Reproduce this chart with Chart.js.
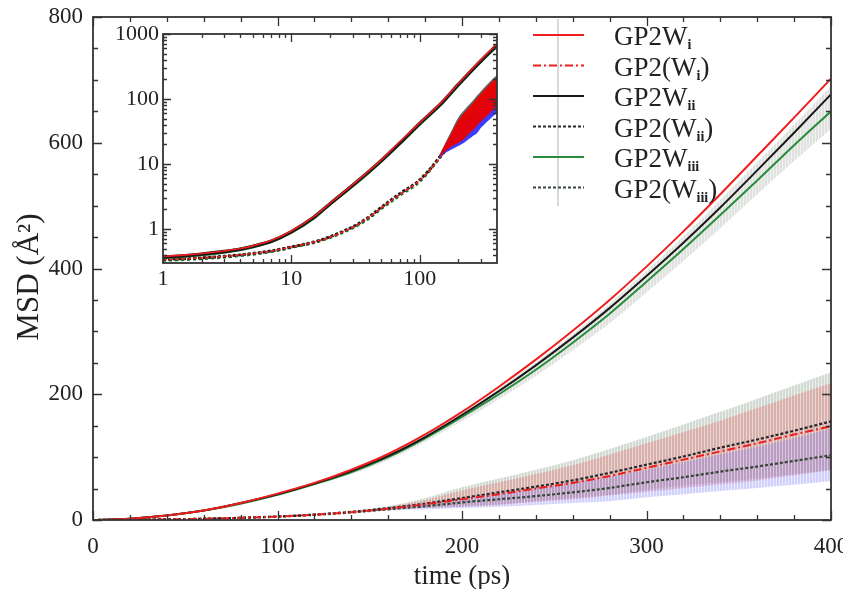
<!DOCTYPE html>
<html><head><meta charset="utf-8">
<script src="https://cdn.jsdelivr.net/npm/chart.js@4.4.0/dist/chart.umd.min.js"></script>
<style>
html,body{margin:0;padding:0;background:#fff;}
#wrap{position:relative;width:843px;height:589px;overflow:hidden;}
#main{position:absolute;left:0;top:0;}
#inset{position:absolute;left:100px;top:20px;}
</style></head><body>
<div id="wrap"><canvas id="main" width="843" height="589"></canvas><canvas id="inset" width="410" height="275"></canvas></div>
<script>
// ---------- main panel data ----------
const time      = [0,20,40,60,80,100,120,140,160,180,200,220,240,260,280,300,320,340,360,380,400];
const wiSolid   = [0,2,7,15,27,42,59,80,105,136,172,212,255,301,350,403,459,518,579,640,702];
const wiiSolid  = [0,2,7,15,27,41,58,78,102,132,167,205,246,290,337,388,441,497,556,616,677];
const wiiiSolid = [0,2,7,15,26,40,57,76,100,130,164,200,239,282,328,379,431,485,540,596,650];
const wiiSolidHi = [null,null,null,null,null,42,59,79,104,134,170,209,251,296,344,396,451,509,569,629,690];
const wiiSolidLo = [null,null,null,null,null,38,55,73,95,124,157,192,229,270,313,362,412,464,518,571,622];
const wiDash    = [0,0.4,1,2,3.5,5.5,8.5,12.5,18,25,33,41,50,59,70,83,96,109,122,136,149];
const wiiDash   = [0,0.4,1,2,3.5,5.6,8.7,13,19,26,35,44,53,63,75,88,101,115,128,142,157];
const wiiiDash  = [0,0.4,1,2,3.4,5.3,8.2,12,17,22,28,33,38,44,51,60,68,77,85,94,103];
const wiiDashHi = [null,null,null,null,null,null,null,13,22,35,52,66,80,95,113,132,152,172,193,214,235];
const wiiDashLo = [null,null,null,null,null,null,null,13,17,20,22,25,30,35,40,48,55,60,66,73,80];
const wiDashHi  = [null,null,null,null,null,null,null,12.5,21,32,47,60,73,87,104,122,140,158,178,198,218];
const wiDashLo  = [null,null,null,null,null,null,null,12.5,16,19,21,24,29,33,39,45,51,57,63,71,79];
const wiiiDashHi= [null,null,null,null,null,null,null,12,19,27,35,43,51,60,69,80,92,104,116,130,145];
const wiiiDashLo= [null,null,null,null,null,null,null,12,15,17,19,21,24,27,30,36,41,46,51,56,62];
const xTickLabels = [0,100,200,300,400];
const yTickLabels = [0,200,400,600,800];
// ---------- inset (log-log) data ----------
const insetTime  = [1,1.5,2,3,4,5,7,10,15,20,30,40,50,70,100,150,200,300,400];
const insetWi    = [0.38,0.40,0.42,0.46,0.50,0.55,0.67,0.93,1.56,2.5,4.8,7.8,11.5,22,43,92,172,403,702];
const insetWii   = [0.37,0.39,0.41,0.45,0.49,0.54,0.65,0.91,1.52,2.45,4.7,7.6,11.2,21,42,89,167,388,677];
const insetWiii  = [0.36,0.38,0.40,0.44,0.48,0.53,0.64,0.89,1.48,2.4,4.6,7.4,11,20.5,41,87,164,379,650];
const insetDWi   = [0.34,0.35,0.36,0.38,0.40,0.42,0.46,0.53,0.63,0.75,1.06,1.5,2.1,3.4,5.6,14,33,83,149];
const insetDWii  = [0.34,0.35,0.36,0.38,0.40,0.42,0.46,0.53,0.63,0.76,1.08,1.52,2.15,3.5,5.7,14.5,35,88,157];
const insetDWiii = [0.33,0.34,0.35,0.37,0.39,0.41,0.45,0.52,0.62,0.74,1.04,1.45,2.05,3.3,5.4,14,28,60,103];
const insetXTicks = [1,10,100];
const insetYTicks = [1,10,100,1000];
// ---------- legend / titles ----------
const legendMain = ['GP2W','GP2(W','GP2W','GP2(W','GP2W','GP2(W'];
const legendSub  = ['i','i','ii','ii','iii','iii'];
const legendTail = ['',')','',')','',')'];
const legendDs   = [0,3,1,4,2,5];
const yTitle = 'MSD (Å²)';
const xTitle = 'time (ps)';

const SERIF = "'Liberation Serif','DejaVu Serif',serif";
const INK = '#222';
const RED = 'rgb(238,30,30)', BLACK = 'rgb(25,25,25)', GREEN = 'rgb(40,140,60)';
const DGRAY = 'rgb(55,70,55)';

function pts(xs, ys){ return xs.map((x,i)=>({x:x, y:ys[i]})); }
function stripes(r,g,b,a){
  const c=document.createElement('canvas'); c.width=3; c.height=1;
  const x=c.getContext('2d');
  x.fillStyle=`rgba(${r},${g},${b},${a})`; x.fillRect(0,0,2,1);
  x.fillStyle=`rgba(${r},${g},${b},${a*0.45})`; x.fillRect(2,0,1,1);
  return x.createPattern(c,'repeat');
}
function line(data,color,width,dash,order){
  return {data:data,borderColor:color,borderWidth:width,borderDash:dash||[],pointRadius:0,fill:false,order:order,cubicInterpolationMode:'monotone'};
}
function band(data,bg,order,fill){
  return {data:data,borderWidth:0,borderColor:'rgba(0,0,0,0)',backgroundColor:bg,pointRadius:0,fill:fill,order:order,spanGaps:false,cubicInterpolationMode:'monotone'};
}

// frame + inward ticks on all 4 sides
function frameTicksPlugin(xMaj,xMin,yMaj,yMin,majLen,minLen){
  return {id:'frameTicks', afterDatasetsDraw(chart){
    const {ctx, chartArea:a, scales:{x,y}} = chart;
    ctx.save();
    ctx.strokeStyle = '#333'; ctx.lineWidth = 1.3;
    const drawX=(vals,len)=>{ vals.forEach(v=>{ const p=Math.round(x.getPixelForValue(v))+0.5;
      ctx.beginPath(); ctx.moveTo(p,a.bottom); ctx.lineTo(p,a.bottom-len);
      ctx.moveTo(p,a.top); ctx.lineTo(p,a.top+len); ctx.stroke(); }); };
    const drawY=(vals,len)=>{ vals.forEach(v=>{ const p=Math.round(y.getPixelForValue(v))+0.5;
      ctx.beginPath(); ctx.moveTo(a.left,p); ctx.lineTo(a.left+len,p);
      ctx.moveTo(a.right,p); ctx.lineTo(a.right-len,p); ctx.stroke(); }); };
    drawX(xMaj,majLen); drawX(xMin,minLen); drawY(yMaj,majLen); drawY(yMin,minLen);
    ctx.lineWidth = 1.8; ctx.strokeStyle='#333';
    ctx.strokeRect(a.left, a.top, a.right-a.left, a.bottom-a.top);
    ctx.restore();
  }};
}

const legendPlugin = {id:'customLegend', afterDraw(chart){
  const ctx = chart.ctx; ctx.save();
  ctx.save();
  ctx.translate(30, 277); ctx.rotate(-Math.PI/2);
  ctx.font = `31px ${SERIF}`; ctx.fillStyle = INK; ctx.textAlign='center'; ctx.textBaseline='middle';
  ctx.fillText(yTitle, 0, 0);
  ctx.restore();
  ctx.strokeStyle='rgba(185,185,185,0.7)'; ctx.lineWidth=1.5;
  ctx.beginPath(); ctx.moveTo(558,19); ctx.lineTo(558,206); ctx.stroke();
  legendMain.forEach((txt,i)=>{
    const ds = chart.data.datasets[legendDs[i]];
    const yy = 35 + i*30.5;
    ctx.strokeStyle = ds.borderColor; ctx.lineWidth = 2;
    ctx.setLineDash(ds.borderDash||[]);
    ctx.beginPath(); ctx.moveTo(533,yy); ctx.lineTo(584,yy); ctx.stroke();
    ctx.setLineDash([]);
    ctx.fillStyle = INK; ctx.textBaseline='alphabetic'; ctx.textAlign='left';
    ctx.font = `27px ${SERIF}`;
    let xx = 614;
    ctx.fillText(txt, xx, yy+10); xx += ctx.measureText(txt).width;
    ctx.font = `bold 14px ${SERIF}`;
    ctx.fillText(legendSub[i], xx, yy+14); xx += ctx.measureText(legendSub[i]).width;
    ctx.font = `27px ${SERIF}`;
    ctx.fillText(legendTail[i], xx, yy+10);
  });
  ctx.restore();
}};

function range(a,b,s){ const r=[]; for(let v=a; v<=b+1e-9; v+=s) r.push(v); return r; }

// ---------------- main chart ----------------
new Chart(document.getElementById('main'), {
  type:'line',
  data:{datasets:[
    line(pts(time,wiSolid),RED,2,[],1),
    line(pts(time,wiiSolid),BLACK,2,[],2),
    line(pts(time,wiiiSolid),GREEN,2,[],3),
    line(pts(time,wiDash),RED,2,[8,3,2,3],4),
    line(pts(time,wiiDash),'rgb(40,40,40)',2.2,[3,2],5),
    line(pts(time,wiiiDash),DGRAY,2.2,[3,2],6),
    band(pts(time,wiiDashHi),stripes(150,168,150,0.42),20,'+1'),
    band(pts(time,wiiDashLo),'rgba(0,0,0,0)',21,false),
    band(pts(time,wiDashHi),stripes(225,105,105,0.38),18,'+1'),
    band(pts(time,wiDashLo),'rgba(0,0,0,0)',19,false),
    band(pts(time,wiiiDashHi),stripes(115,115,245,0.33),16,'+1'),
    band(pts(time,wiiiDashLo),'rgba(0,0,0,0)',17,false),
    band(pts(time,wiiSolidHi),stripes(170,178,170,0.38),14,'+1'),
    band(pts(time,wiiSolidLo),'rgba(0,0,0,0)',15,false)
  ]},
  options:{
    responsive:false, animation:false, devicePixelRatio:1,
    layout:{padding:{left:0,right:12,top:17,bottom:0}},
    plugins:{legend:{display:false}, tooltip:{enabled:false}},
    scales:{
      x:{type:'linear', min:0, max:400,
        grid:{display:false, drawTicks:false}, border:{display:false},
        afterBuildTicks(s){ s.ticks = xTickLabels.map(v=>({value:v})); },
        ticks:{font:{family:SERIF,size:23}, color:INK, padding:13, maxRotation:0, autoSkip:false},
        title:{display:true, text:xTitle, color:INK, font:{family:SERIF,size:27,lineHeight:0.9}, padding:{top:0,bottom:0}},
        afterFit(s){ s.height=69; s.paddingLeft=0; s.paddingRight=0; }
      },
      y:{type:'linear', min:0, max:800,
        grid:{display:false, drawTicks:false}, border:{display:false},
        afterBuildTicks(s){ s.ticks = yTickLabels.map(v=>({value:v})); },
        ticks:{font:{family:SERIF,size:23}, color:INK, padding:10},
        title:{display:false},
        afterFit(s){ s.width=93; s.paddingTop=0; s.paddingBottom=0; }
      }
    }
  },
  plugins:[frameTicksPlugin(xTickLabels, range(20,380,20).filter(v=>v%100), yTickLabels, range(50,750,50).filter(v=>v%200), 9, 5), legendPlugin]
});

// ---------------- inset chart ----------------
function logMinors(lo,hi){ const r=[]; for(let e=-1;e<=3;e++){ for(let m=2;m<=9;m++){ const v=m*Math.pow(10,e); if(v>lo && v<hi) r.push(v);} } return r; }
const insetBg = {id:'insetBg', beforeDraw(chart){ const {ctx,chartArea:a}=chart; ctx.save(); ctx.fillStyle='#fff'; ctx.fillRect(a.left,a.top,a.right-a.left,a.bottom-a.top); ctx.restore(); }};
const bandT = time.slice(7);
new Chart(document.getElementById('inset'), {
  type:'line',
  data:{datasets:[
    line(pts(insetTime,insetWi),RED,1.6,[],1),
    line(pts(insetTime,insetWii),BLACK,3.4,[],3),
    line(pts(insetTime,insetWiii),GREEN,3,[],4),
    line(pts(insetTime,insetDWi),RED,1.6,[4,2],10),
    line(pts(insetTime,insetDWii),'rgb(30,30,30)',3,[3,2],11),
    line(pts(insetTime,insetDWiii),'rgb(30,120,40)',3,[3,3],12),
    band(pts(bandT,wiiDashHi.slice(7)),'rgba(80,80,80,0.9)',9,'+1'),
    band(pts(bandT,wiiDashLo.slice(7)),'rgba(0,0,0,0)',9,false),
    band(pts(bandT,wiiiDashHi.slice(7)),'rgba(50,50,255,0.95)',8,'+1'),
    band(pts(bandT,wiiiDashLo.slice(7)),'rgba(0,0,0,0)',8,false),
    band(pts(bandT,wiDashHi.slice(7)),'rgba(235,0,0,0.95)',7,'+1'),
    band(pts(bandT,wiDashLo.slice(7)),'rgba(0,0,0,0)',7,false)
  ]},
  options:{
    responsive:false, animation:false, devicePixelRatio:1,
    layout:{padding:{left:0,right:13,top:14,bottom:0}},
    plugins:{legend:{display:false}, tooltip:{enabled:false}},
    scales:{
      x:{type:'logarithmic', min:1, max:400,
        grid:{display:false, drawTicks:false}, border:{display:false},
        afterBuildTicks(s){ s.ticks = insetXTicks.map(v=>({value:v})); },
        ticks:{font:{family:SERIF,size:22}, color:INK, padding:3, maxRotation:0, autoSkip:false, callback:v=>String(v)},
        afterFit(s){ s.height=32; s.paddingLeft=0; s.paddingRight=0; }
      },
      y:{type:'logarithmic', min:0.33, max:1000,
        grid:{display:false, drawTicks:false}, border:{display:false},
        afterBuildTicks(s){ s.ticks = insetYTicks.map(v=>({value:v})); },
        ticks:{font:{family:SERIF,size:22}, color:INK, padding:4, autoSkip:false, callback:v=>String(v)},
        afterFit(s){ s.width=63; s.paddingTop=0; s.paddingBottom=0; }
      }
    }
  },
  plugins:[insetBg, frameTicksPlugin(insetXTicks, logMinors(1,400), insetYTicks, logMinors(0.33,1000), 8, 4)]
});
</script>
</body></html>
